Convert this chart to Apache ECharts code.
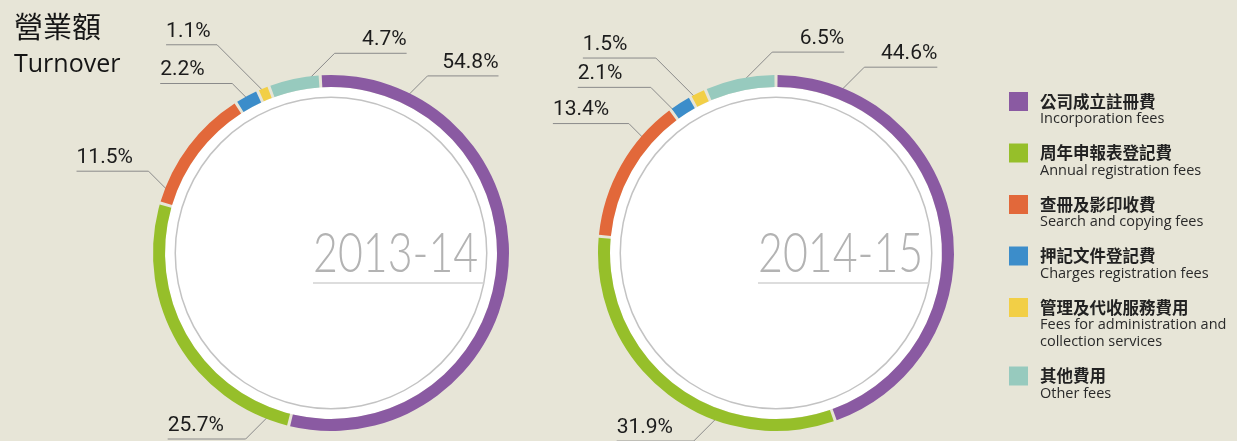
<!DOCTYPE html>
<html>
<head>
<meta charset="utf-8">
<title>營業額 Turnover</title>
<script src="https://cdn.jsdelivr.net/npm/echarts@6/dist/echarts.min.js"></script>
<style>
  html, body { margin: 0; padding: 0; background: #e7e5d7; }
  #chart { width: 1237px; height: 441px; }
</style>
</head>
<body>
<div id="chart"></div>
<script>
// fee categories, in the order they run clockwise round each ring
const categoriesZh = ['公司成立註冊費', '周年申報表登記費', '查冊及影印收費', '押記文件登記費', '管理及代收服務費用', '其他費用'];
const categoriesEn = ['Incorporation fees', 'Annual registration fees', 'Search and copying fees', 'Charges registration fees', 'Fees for administration and\ncollection services', 'Other fees'];
const years = ['2013-14', '2014-15'];
// share of turnover, %
const share201314 = [54.8, 25.7, 11.5, 2.2, 1.1, 4.7];
const share201415 = [44.6, 31.9, 13.4, 2.1, 1.5, 6.5];

const colors = ['#8a5aa2', '#96bf2a', '#e2683a', '#3c8dca', '#f2cf46', '#97cabe'];

// where each label line leaves the ring: a = degrees clockwise from 12 o'clock,
// len = length of the slanted piece, run = horizontal piece, side = which way it runs
const spots201314 = [
  { a: 26, len: 28, run: 71, side: 1 },
  { a: 201, len: 32, run: 78, side: -1 },
  { a: 291, len: 27, run: 72, side: -1 },
  { a: 331.6, len: 22, run: 72, side: -1 },
  { a: 337.4, len: 66, run: 51, side: -1 },
  { a: 352.6, len: 37, run: 72, side: 1 }
];
const spots201415 = [
  { a: 21.8, len: 33, run: 73, side: 1 },
  { a: 199.7, len: 33, run: 77, side: -1 },
  { a: 310.9, len: 21, run: 76, side: -1 },
  { a: 324.4, len: 33, run: 73, side: -1 },
  { a: 332.6, len: 56, run: 73, side: -1 },
  { a: 349.2, len: 41, run: 72, side: 1 }
];

const centerA = [331, 253];
const centerB = [776, 253];
const ringR = [166, 178];

const chart = echarts.init(document.getElementById('chart'), null, { renderer: 'canvas' });

function placeLabels(center, spots) {
  return function (params) {
    const s = spots[params.dataIndex];
    const rad = s.a * Math.PI / 180;
    const p0 = [center[0] + 175 * Math.sin(rad), center[1] - 175 * Math.cos(rad)];
    const down = Math.cos(rad) < 0 ? 1 : -1;
    const d = s.len / Math.SQRT2;
    const p1 = [p0[0] + s.side * d, p0[1] + down * d];
    const p2 = [p1[0] + s.side * s.run, p1[1]];
    return {
      x: p2[0],
      y: p2[1] - 3,
      align: s.side > 0 ? 'right' : 'left',
      verticalAlign: 'bottom',
      labelLinePoints: [p0, p1, p2]
    };
  };
}

function discSeries(center) {
  return [
    {
      type: 'pie', center: center, radius: [0, ringR[0]], silent: true, z: 1,
      label: { show: false }, labelLine: { show: false },
      itemStyle: { color: '#ffffff' },
      data: [{ name: 'disc', value: 1 }]
    },
    {
      type: 'pie', center: center, radius: [155, 156.5], silent: true, z: 1,
      label: { show: false }, labelLine: { show: false },
      itemStyle: { color: '#c3c3c3' },
      data: [{ name: 'edge', value: 1 }]
    }
  ];
}

function ringSeries(name, center, values, spots, startAngle) {
  return {
    type: 'pie',
    name: name,
    center: center,
    radius: ringR,
    startAngle: startAngle,
    clockwise: true,
    padAngle: 1,
    avoidLabelOverlap: false,
    silent: true,
    z: 3,
    data: values.map((v, i) => ({ name: categoriesZh[i], value: v })),
    label: {
      show: true,
      position: 'outside',
      formatter: '{c}%',
      fontFamily: 'Roboto',
      fontSize: 21,
      color: '#1c1c1c'
    },
    labelLine: { show: true, lineStyle: { color: '#8a8a8a', width: 1 } },
    labelLayout: placeLabels(center, spots)
  };
}

// year caption inside each ring, thin and condensed, with a rule under it
function yearCaption(text, center) {
  return [
    {
      type: 'text', z: 10, silent: true,
      x: center[0] - 18, y: center[1] + 1, scaleX: 0.78,
      style: { text: text, font: '300 55px Lato, sans-serif', fill: '#b3b3b3', textVerticalAlign: 'middle' }
    },
    {
      type: 'line', z: 10, silent: true,
      shape: { x1: center[0] - 18, y1: center[1] + 30, x2: center[0] + 153, y2: center[1] + 30 },
      style: { stroke: '#d2d2d2', lineWidth: 1.5 }
    }
  ];
}

const legendData = categoriesZh.map((n, i) => {
  const lines = categoriesEn[i].split('\n').length;
  return { name: n, textStyle: { padding: [17 * lines, 0, 0, 7] } };
});

const option = {
  animation: false,
  backgroundColor: '#e7e5d7',
  color: colors,
  title: {
    text: '營業額',
    subtext: 'Turnover',
    left: 9, top: 7,
    itemGap: 11,
    textStyle: { fontFamily: 'Noto Sans CJK TC', fontSize: 29, fontWeight: 'normal', color: '#151515' },
    subtextStyle: { fontFamily: 'Open Sans', fontSize: 25, color: '#151515' }
  },
  graphic: [
    ...yearCaption(years[0], centerA),
    ...yearCaption(years[1], centerB)
  ],
  legend: {
    orient: 'vertical',
    left: 1009,
    top: 92,
    padding: 0,
    itemGap: 17,
    itemWidth: 19,
    itemHeight: 19,
    icon: 'rect',
    selectedMode: false,
    data: legendData,
    formatter: function (name) {
      const i = categoriesZh.indexOf(name);
      const en = categoriesEn[i].split('\n').map(l => '{en|' + l + '}').join('\n');
      return '{cn|' + name + '}\n' + en;
    },
    textStyle: {
      rich: {
        cn: { fontFamily: 'Noto Sans CJK TC', fontSize: 16.5, fontWeight: 'bold', color: '#222222', lineHeight: 18 },
        en: { fontFamily: 'Open Sans', fontSize: 14.5, color: '#2a2a2a', lineHeight: 17 }
      }
    }
  },
  series: [
    ...discSeries(centerA),
    ...discSeries(centerB),
    ringSeries(years[0], centerA, share201314, spots201314, 93.5),
    ringSeries(years[1], centerB, share201415, spots201415, 90)
  ]
};

chart.setOption(option);
window.addEventListener('resize', function () {
  chart.resize();
});
</script>
</body>
</html>
